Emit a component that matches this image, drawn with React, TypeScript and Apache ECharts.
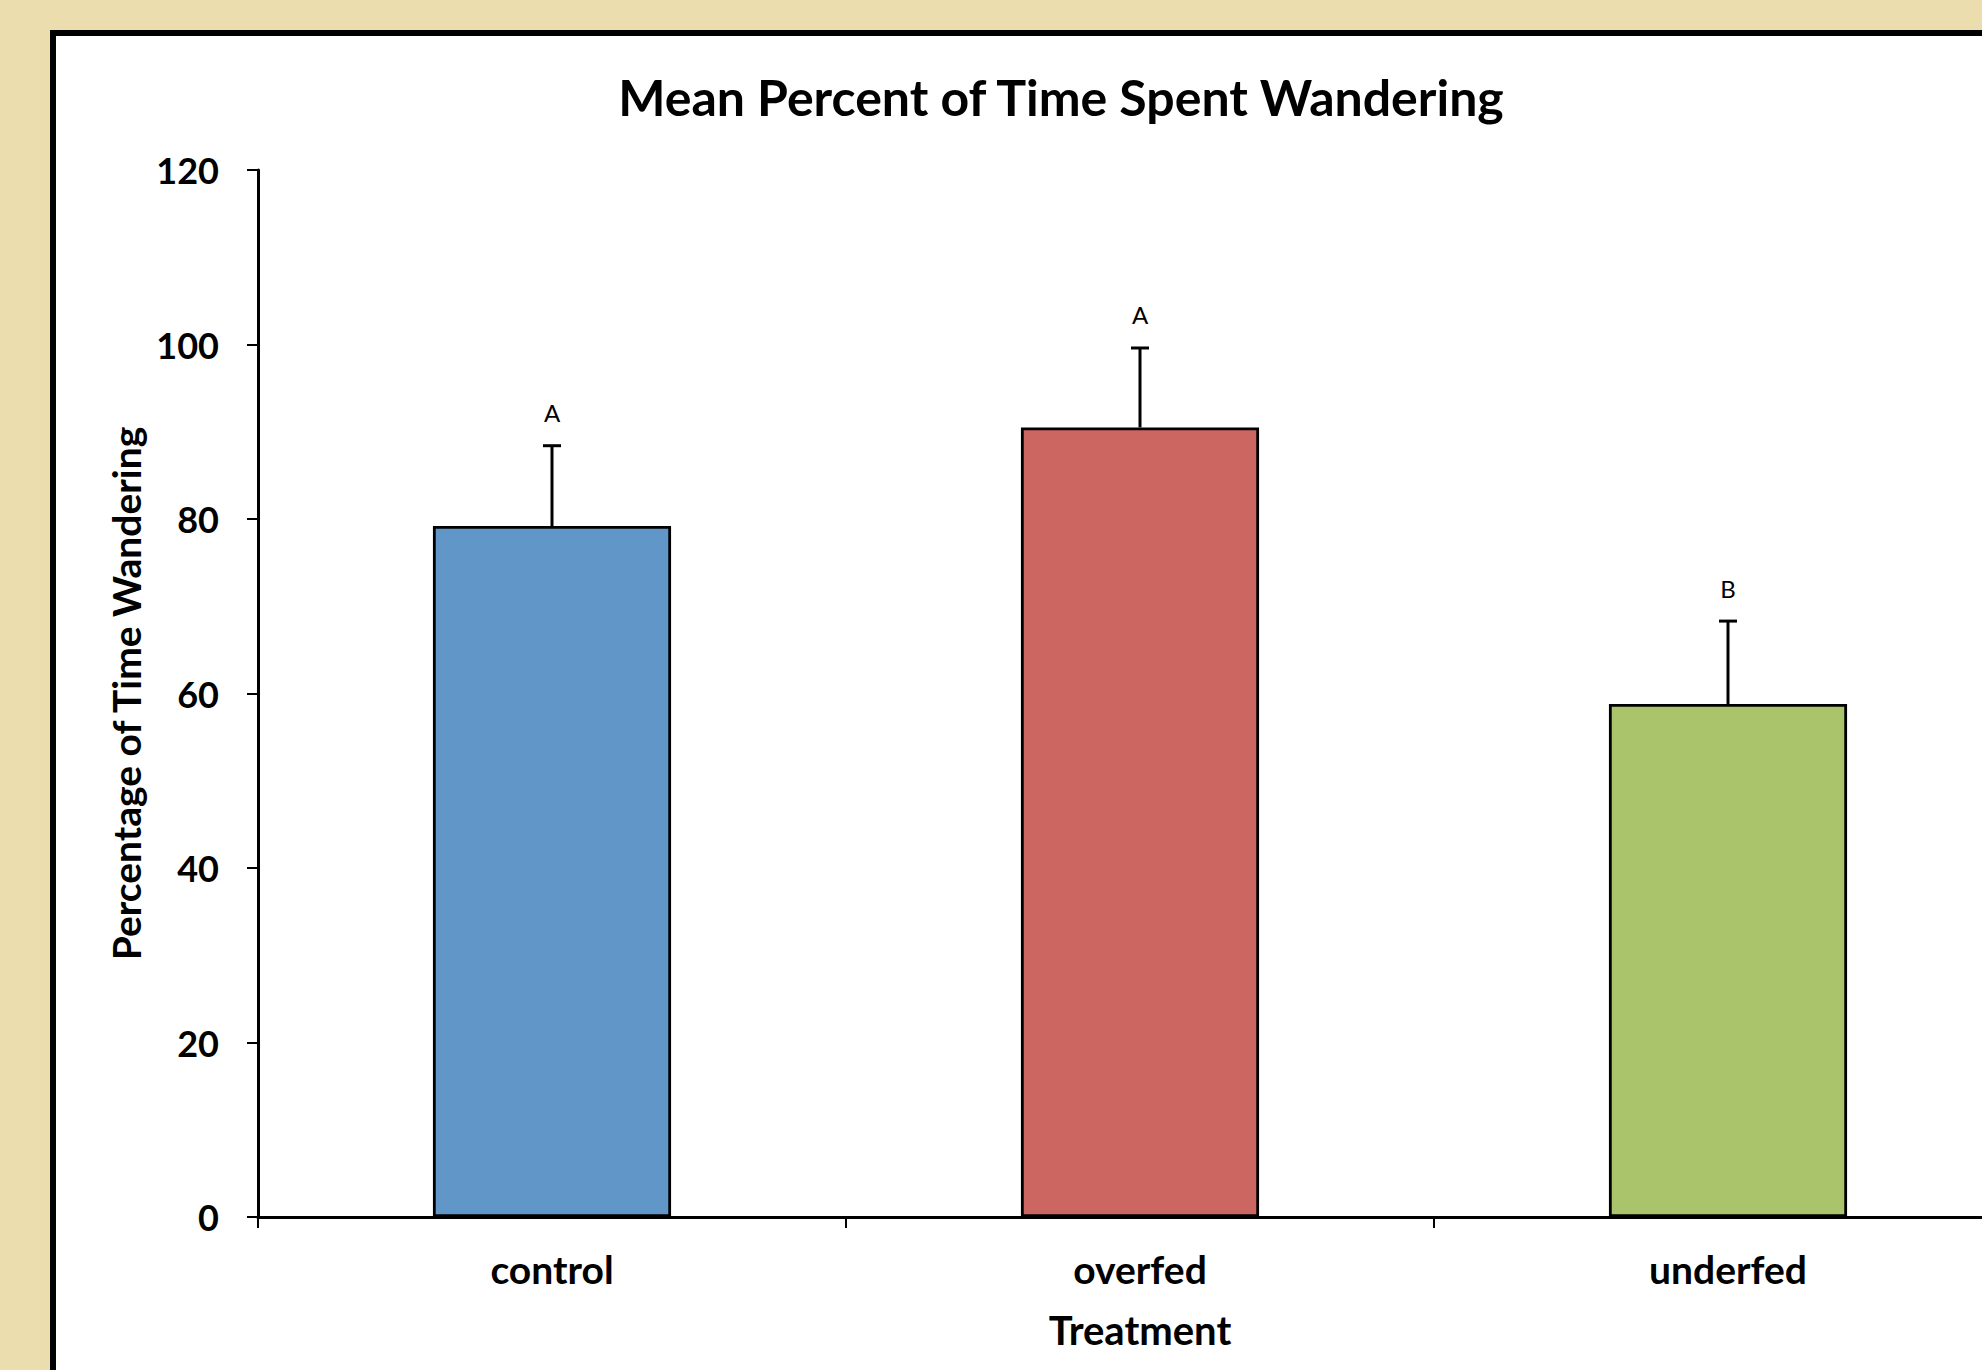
import React, { useEffect, useRef } from "react";
import * as echarts from "echarts";

const categories = ["control", "overfed", "underfed"];
const meanValues = [79.2, 90.5, 58.8];
const errorValues = [9.2, 9.1, 9.5];
const groupLetters = ["A", "A", "B"];
const barColors = ["#6196C9", "#CC6660", "#AAC46B"];
const yMin = 0;
const yMax = 120;
const yInterval = 20;

const FONT = "Lato";

export default function App() {
  const ref = useRef<HTMLDivElement>(null);
  useEffect(() => {
    if (!ref.current) return;
    const chart = echarts.init(ref.current, null, { renderer: "svg" });
    const option: any = {
      animation: false,
      backgroundColor: "#EBDDAD",
      title: {
        text: "Mean Percent of Time Spent Wandering",
        left: 1056,
        textAlign: "center",
        top: 67,
        textStyle: { fontFamily: FONT, fontWeight: "bold", fontSize: 50, lineHeight: 50, color: "#000" },
      },
      graphic: [
        {
          type: "rect",
          z: -1,
          shape: { x: 53, y: 33, width: 2100, height: 1500 },
          style: { fill: "#fff", stroke: "#000", lineWidth: 6 },
        },
      ],
      grid: { left: 258, top: 170, bottom: 153, right: 0, containLabel: false },
      xAxis: {
        type: "category",
        data: categories,
        name: "Treatment",
        nameLocation: "middle",
        nameGap: 93,
        nameTextStyle: { fontFamily: FONT, fontWeight: "bold", fontSize: 40, color: "#000" },
        axisLine: { show: true, lineStyle: { color: "#000", width: 3 } },
        axisTick: { show: true, length: 11, lineStyle: { color: "#000", width: 2 } },
        axisLabel: { margin: 32, fontFamily: FONT, fontWeight: "bold", fontSize: 39, color: "#000" },
        splitLine: { show: false },
      },
      yAxis: {
        type: "value",
        min: yMin,
        max: yMax,
        interval: yInterval,
        name: "Percentage of Time Wandering",
        nameLocation: "middle",
        nameRotate: 90,
        nameGap: 105,
        nameTextStyle: { fontFamily: FONT, fontWeight: "bold", fontSize: 39, color: "#000" },
        axisLine: { show: true, lineStyle: { color: "#000", width: 3 } },
        axisTick: { show: true, length: 11, lineStyle: { color: "#000", width: 2 } },
        axisLabel: { margin: 39, fontFamily: FONT, fontWeight: "bold", fontSize: 36, color: "#000" },
        splitLine: { show: false },
      },
      series: [
        {
          type: "bar",
          barWidth: "40.5%",
          data: meanValues.map((v, i) => ({
            value: v,
            itemStyle: { color: barColors[i], borderColor: "#000", borderWidth: 2.8 },
          })),
          z: 2,
        },
        {
          type: "custom",
          z: 3,
          data: meanValues.map((v, i) => [i, v, errorValues[i]]),
          encode: { x: 0, y: 1 },
          renderItem: (params: any, api: any) => {
            const i = api.value(0);
            const v = api.value(1);
            const e = api.value(2);
            const base = api.coord([i, v]);
            const top = api.coord([i, v + e]);
            return {
              type: "group",
              children: [
                {
                  type: "line",
                  shape: { x1: base[0], y1: base[1], x2: top[0], y2: top[1] },
                  style: { stroke: "#000", lineWidth: 3 },
                },
                {
                  type: "line",
                  shape: { x1: top[0] - 9, y1: top[1], x2: top[0] + 9, y2: top[1] },
                  style: { stroke: "#000", lineWidth: 3 },
                },
                {
                  type: "text",
                  x: top[0],
                  y: top[1] - 33,
                  style: {
                    text: groupLetters[params.dataIndex],
                    fill: "#000",
                    font: `24px ${FONT}`,
                    align: "center",
                    verticalAlign: "middle",
                  },
                },
              ],
            };
          },
        },
      ],
    };
    chart.setOption(option);
    return () => chart.dispose();
  }, []);
  return (
    <div style={{ position: "fixed", left: 0, top: 0, width: 1982, height: 1370, overflow: "hidden" }}>
      <div ref={ref} style={{ position: "absolute", left: 0, top: 0, width: 2022, height: 1370 }} />
    </div>
  );
}
